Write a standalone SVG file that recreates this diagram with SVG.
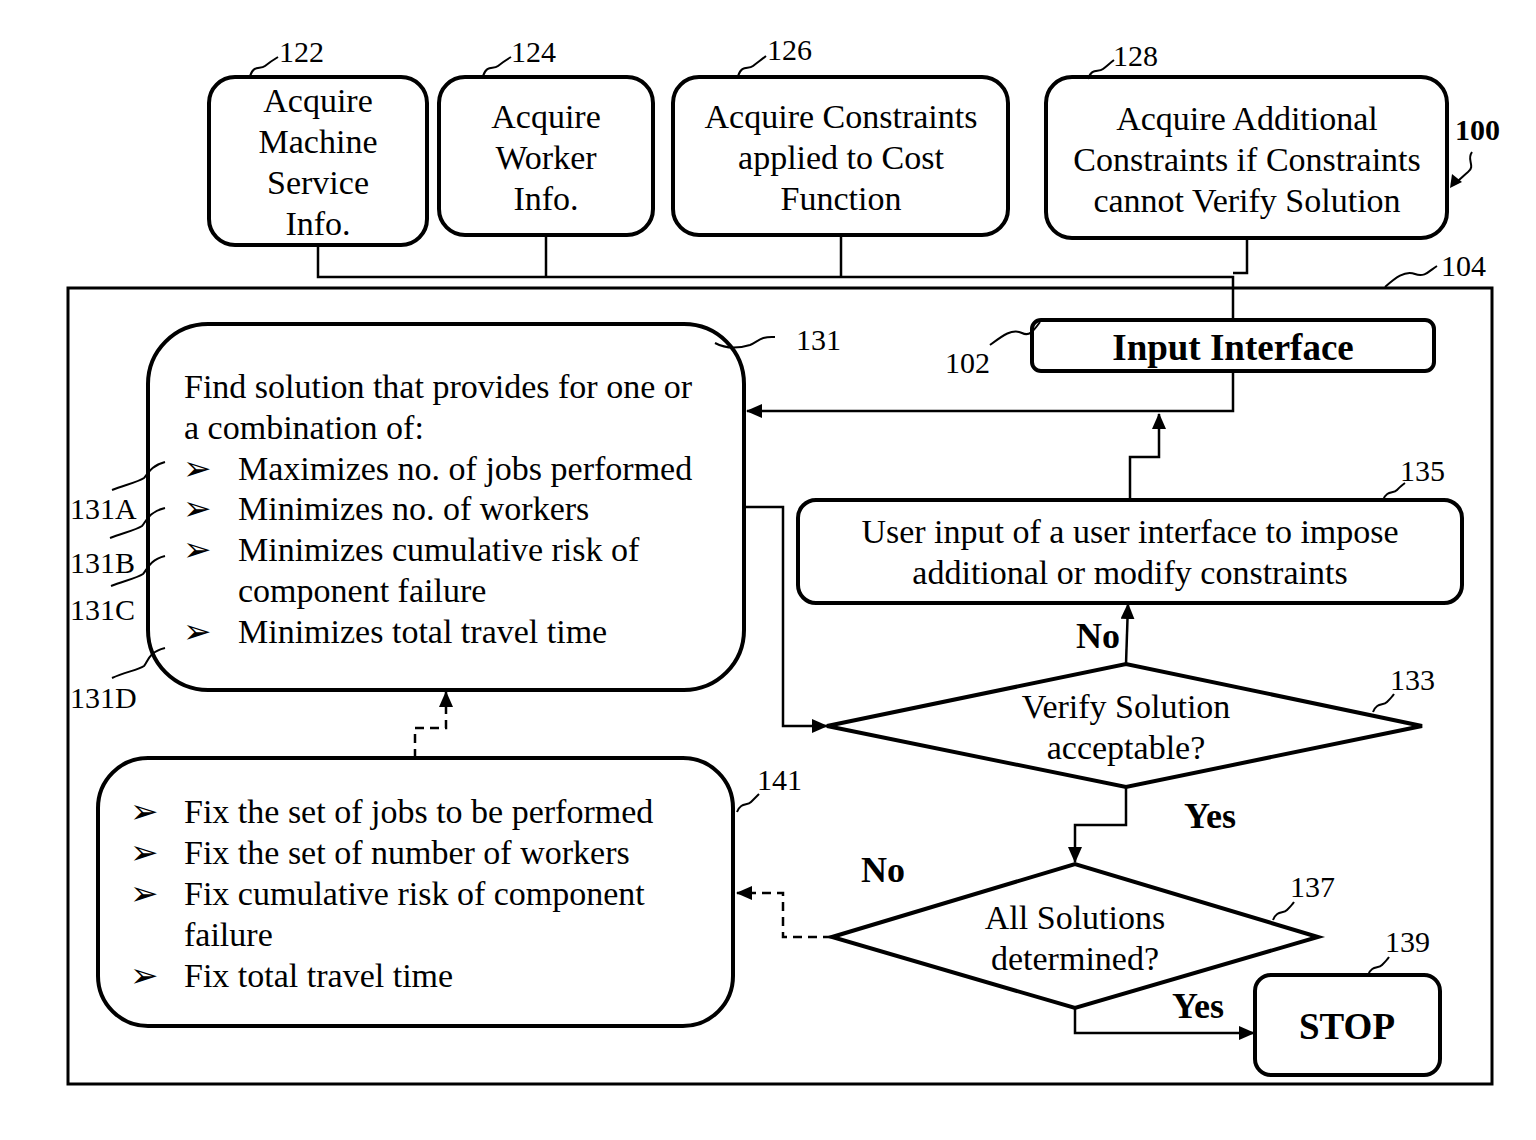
<svg xmlns="http://www.w3.org/2000/svg" width="1536" height="1140" viewBox="0 0 1536 1140">
<style>
.box{fill:#fff;stroke:#000;stroke-width:4}
.frame{fill:none;stroke:#000;stroke-width:3}
.ln{fill:none;stroke:#000;stroke-width:2.5}
.dash{fill:none;stroke:#000;stroke-width:2.5;stroke-dasharray:9,6}
.sq{fill:none;stroke:#000;stroke-width:2}
text{font-family:"Liberation Serif","Times New Roman",serif;fill:#000}
.t{font-size:34px}
.c{text-anchor:middle}
.n{font-size:30px}
.b{font-weight:bold}
.bl{font-family:"DejaVu Sans",sans-serif;font-size:34px}
</style>
<defs>
<marker id="ah" markerUnits="userSpaceOnUse" markerWidth="16" markerHeight="14" refX="15" refY="7" orient="auto">
<path d="M0,0 L16,7 L0,14 Z" fill="#000"/>
</marker>
</defs>
<rect width="1536" height="1140" fill="#fff"/>

<g id="connectors">
<path class="ln" d="M318,245 V277 H1233 V320"/>
<path class="ln" d="M546,235 V277"/>
<path class="ln" d="M841,235 V277"/>
<path class="ln" d="M1247,238 V273 H1233"/>
<path class="ln" d="M1233,371 V411 H747" marker-end="url(#ah)"/>
<path class="ln" d="M1130,500 V457 H1159 V414" marker-end="url(#ah)"/>
<path class="ln" d="M744,507 H783 V726 H827" marker-end="url(#ah)"/>
<path class="ln" d="M1126,664 L1128,604" marker-end="url(#ah)"/>
<path class="ln" d="M1126,787 V825 H1075 V862" marker-end="url(#ah)"/>
<path class="ln" d="M1075,1008 V1033 H1254" marker-end="url(#ah)"/>
<path class="dash" d="M832,937 H783 V893 H737" marker-end="url(#ah)"/>
<path class="dash" d="M415,758 V728 H446 V692" marker-end="url(#ah)"/>
</g>

<g id="n104">
<rect class="frame" x="68" y="288" width="1424" height="796"/>
<path class="sq" d="M1385,287 C1395,278 1405,270 1415,274 C1425,278 1430,270 1437,266"/>
<text class="n" x="1441" y="276">104</text>
</g>

<g id="n100">
<text class="n b" x="1455" y="140">100</text>
<path class="sq" d="M1472,152 C1466,160 1476,166 1468,172 C1463,176 1460,180 1454,184" stroke-width="2.5"/>
<path d="M1450,188 L1452,174 L1462,182 Z" fill="#000"/>
</g>

<g id="n122">
<rect class="box" x="209" y="77" width="218" height="168" rx="26"/>
<text class="t c" x="318" y="112">Acquire</text>
<text class="t c" x="318" y="153">Machine</text>
<text class="t c" x="318" y="194">Service</text>
<text class="t c" x="318" y="235">Info.</text>
<path class="sq" d="M250,76 C254,64 260,70 265,66 C270,62 273,60 278,57"/>
<text class="n" x="279" y="62">122</text>
</g>

<g id="n124">
<rect class="box" x="439" y="77" width="214" height="158" rx="26"/>
<text class="t c" x="546" y="128">Acquire</text>
<text class="t c" x="546" y="169">Worker</text>
<text class="t c" x="546" y="210">Info.</text>
<path class="sq" d="M483,76 C487,64 493,70 498,66 C503,62 506,60 511,57"/>
<text class="n" x="511" y="62">124</text>
</g>

<g id="n126">
<rect class="box" x="673" y="77" width="335" height="158" rx="26"/>
<text class="t c" x="841" y="128">Acquire Constraints</text>
<text class="t c" x="841" y="169">applied to Cost</text>
<text class="t c" x="841" y="210">Function</text>
<path class="sq" d="M738,76 C742,64 748,70 753,66 C758,62 761,60 766,56"/>
<text class="n" x="767" y="60">126</text>
</g>

<g id="n128">
<rect class="box" x="1046" y="77" width="401" height="161" rx="26"/>
<text class="t c" x="1247" y="130">Acquire Additional</text>
<text class="t c" x="1247" y="171">Constraints if Constraints</text>
<text class="t c" x="1247" y="212">cannot Verify Solution</text>
<path class="sq" d="M1088,79 C1092,67 1098,73 1103,69 C1108,65 1110,63 1114,60"/>
<text class="n" x="1113" y="66">128</text>
</g>

<g id="n102">
<rect class="box" x="1032" y="320" width="402" height="51" rx="9"/>
<text class="c b" x="1233" y="360" font-size="37">Input Interface</text>
<path class="sq" d="M990,345 C1002,336 1012,328 1022,333 C1030,337 1034,330 1040,322"/>
<text class="n" x="945" y="373">102</text>
</g>

<g id="n131">
<rect class="box" x="148" y="324" width="596" height="366" rx="60"/>
<text class="t" x="184" y="398">Find solution that provides for one or</text>
<text class="t" x="184" y="439">a combination of:</text>
<text class="bl" x="183" y="480">➢</text>
<text class="t" x="238" y="480">Maximizes no. of jobs performed</text>
<text class="bl" x="183" y="520">➢</text>
<text class="t" x="238" y="520">Minimizes no. of workers</text>
<text class="bl" x="183" y="561">➢</text>
<text class="t" x="238" y="561">Minimizes cumulative risk of</text>
<text class="t" x="238" y="602">component failure</text>
<text class="bl" x="183" y="643">➢</text>
<text class="t" x="238" y="643">Minimizes total travel time</text>
<path class="sq" d="M715,343 C728,350 740,348 750,345 C758,342 760,336 775,337"/>
<text class="n" x="796" y="350">131</text>
</g>

<g id="n131A">
<path class="sq" d="M112,490 C125,485 138,482 144,478 C148,474 150,466 165,462"/>
<text class="n" x="70" y="519">131A</text>
</g>
<g id="n131B">
<path class="sq" d="M110,538 C123,533 136,530 142,526 C146,522 148,512 165,508"/>
<text class="n" x="70" y="573">131B</text>
</g>
<g id="n131C">
<path class="sq" d="M111,586 C124,581 137,578 143,574 C147,570 149,560 165,556"/>
<text class="n" x="70" y="620">131C</text>
</g>
<g id="n131D">
<path class="sq" d="M112,678 C125,672 138,670 144,666 C148,662 148,652 165,648"/>
<text class="n" x="70" y="708">131D</text>
</g>

<g id="n135">
<rect class="box" x="798" y="500" width="664" height="103" rx="18"/>
<text class="t c" x="1130" y="543">User input of a user interface to impose</text>
<text class="t c" x="1130" y="584">additional or modify constraints</text>
<path class="sq" d="M1383,500 C1387,490 1393,494 1397,490 C1400,487 1402,485 1405,483"/>
<text class="n" x="1400" y="481">135</text>
</g>

<g id="n133">
<polygon class="box" points="827,726 1126,664 1422,726 1126,787"/>
<text class="t c" x="1126" y="718">Verify Solution</text>
<text class="t c" x="1126" y="759">acceptable?</text>
<path class="sq" d="M1373,712 C1377,702 1383,706 1387,702 C1390,699 1392,697 1394,694"/>
<text class="n" x="1390" y="690">133</text>
</g>

<g id="n137">
<polygon class="box" points="832,937 1075,864 1318,937 1075,1008"/>
<text class="t c" x="1075" y="929">All Solutions</text>
<text class="t c" x="1075" y="970">determined?</text>
<path class="sq" d="M1273,920 C1277,910 1283,914 1287,910 C1290,907 1292,905 1294,902"/>
<text class="n" x="1290" y="897">137</text>
</g>

<g id="n139">
<rect class="box" x="1255" y="975" width="185" height="100" rx="16"/>
<text class="c b" x="1347" y="1039" font-size="37">STOP</text>
<path class="sq" d="M1368,975 C1372,965 1378,969 1382,965 C1385,962 1387,960 1389,957"/>
<text class="n" x="1385" y="952">139</text>
</g>

<g id="n141">
<rect class="box" x="98" y="758" width="635" height="268" rx="50"/>
<text class="bl" x="130" y="823">➢</text>
<text class="t" x="184" y="823">Fix the set of jobs to be performed</text>
<text class="bl" x="130" y="864">➢</text>
<text class="t" x="184" y="864">Fix the set of number of workers</text>
<text class="bl" x="130" y="905">➢</text>
<text class="t" x="184" y="905">Fix cumulative risk of component</text>
<text class="t" x="184" y="946">failure</text>
<text class="bl" x="130" y="987">➢</text>
<text class="t" x="184" y="987">Fix total travel time</text>
<path class="sq" d="M737,812 C741,802 747,806 751,802 C754,799 756,797 759,794"/>
<text class="n" x="757" y="790">141</text>
</g>

<g id="labels">
<text class="b c" x="1098" y="648" font-size="36">No</text>
<text class="b c" x="1210" y="828" font-size="36">Yes</text>
<text class="b c" x="883" y="882" font-size="36">No</text>
<text class="b c" x="1198" y="1018" font-size="36">Yes</text>
</g>
</svg>
